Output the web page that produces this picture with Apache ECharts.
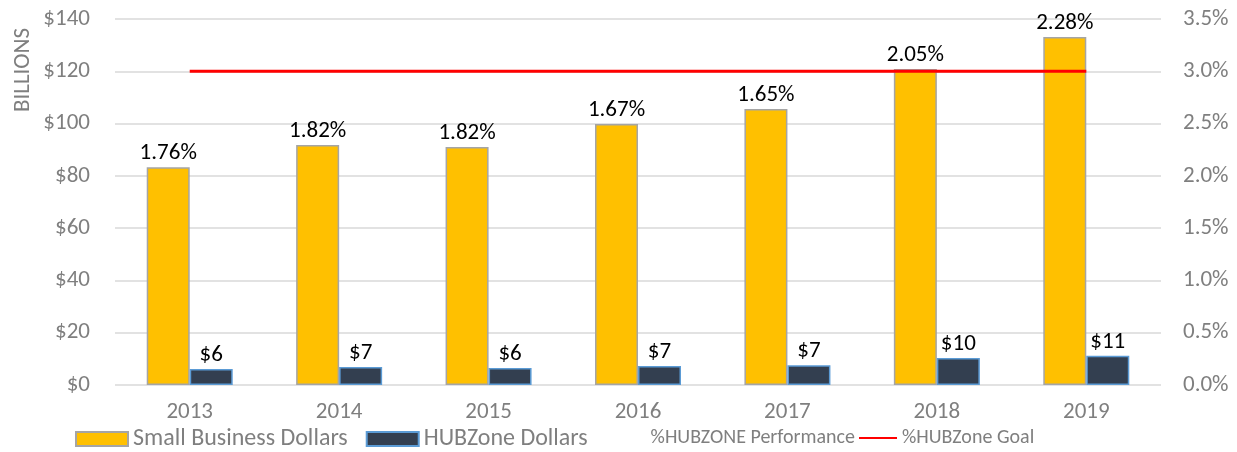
<!DOCTYPE html>
<html>
<head>
<meta charset="utf-8">
<script src="https://cdn.jsdelivr.net/npm/echarts@6/dist/echarts.min.js"></script>
<style>
  html, body { margin: 0; padding: 0; background: #fff; }
  #chart { width: 1237px; height: 452px; }
</style>
</head>
<body>
<div id="chart"></div>
<script>
var years = ['2013', '2014', '2015', '2016', '2017', '2018', '2019'];
var smallBusiness = [83.3, 91.8, 91.0, 99.8, 105.6, 120.9, 133.1];
var hubzone = [6.1, 6.9, 6.5, 7.3, 7.6, 10.3, 11.2];
var hubzoneLabels = ['$6', '$7', '$6', '$7', '$7', '$10', '$11'];
var performance = [1.76, 1.82, 1.82, 1.67, 1.65, 2.05, 2.28];
var goal = [3.0, 3.0, 3.0, 3.0, 3.0, 3.0, 3.0];

var font = 'Carlito, Lato, "Liberation Sans", sans-serif';
var gray = '#7f7f7f';

var myChart = echarts.init(document.getElementById('chart'));
myChart.setOption({
  animation: false,
  textStyle: { fontFamily: font },
  grid: { left: 115, right: 76, top: 19, bottom: 67 },
  // three legends so each group sits where it does in the original
  legend: [{
    left: 75,
    top: 427,
    padding: 0,
    itemWidth: 52,
    itemHeight: 14,
    itemGap: 18,
    textStyle: { color: gray, fontSize: 24, fontFamily: font },
    data: [
      { name: 'Small Business Dollars', icon: 'rect' },
      { name: 'HUBZone Dollars', icon: 'rect' }
    ]
  }, {
    left: 640,
    top: 428,
    padding: 0,
    itemWidth: 0,
    itemHeight: 14,
    textStyle: { color: gray, fontSize: 20, fontFamily: font },
    data: ['%HUBZONE Performance']
  }, {
    left: 858,
    top: 428,
    padding: 0,
    itemWidth: 38,
    itemHeight: 14,
    textStyle: { color: gray, fontSize: 20, fontFamily: font },
    data: [{ name: '%HUBZone Goal', itemStyle: { opacity: 0 } }]
  }],
  graphic: [{
    type: 'text',
    left: 12,
    top: 28,
    rotation: Math.PI / 2,
    style: { text: 'BILLIONS', fill: gray, font: '23px ' + font }
  }],
  xAxis: {
    type: 'category',
    data: years,
    axisLine: { show: false },
    axisTick: { show: false },
    axisLabel: { color: gray, fontSize: 23, margin: 16 }
  },
  yAxis: [{
    type: 'value',
    min: 0, max: 140, interval: 20,
    axisLabel: { color: gray, fontSize: 23, margin: 25, formatter: function (v) { return '$' + v; } },
    splitLine: { lineStyle: { color: '#d9d9d9', width: 1.5 } }
  }, {
    type: 'value',
    min: 0, max: 3.5, interval: 0.5,
    axisLabel: { color: gray, fontSize: 23, margin: 22, formatter: function (v) { return v.toFixed(1) + '%'; } },
    splitLine: { show: false }
  }],
  series: [{
    name: 'Small Business Dollars',
    type: 'bar',
    data: smallBusiness,
    barWidth: 43,
    barGap: '0%',
    itemStyle: { color: '#ffc000', borderColor: '#a5a5a5', borderWidth: 1.5 },
    label: {
      show: true, position: 'top', distance: 2, color: '#000', fontSize: 23,
      formatter: function (p) { return performance[p.dataIndex].toFixed(2) + '%'; }
    }
  }, {
    name: 'HUBZone Dollars',
    type: 'bar',
    data: hubzone,
    barWidth: 43,
    itemStyle: { color: '#333f50', borderColor: '#5b9bd5', borderWidth: 1.5 },
    label: {
      show: true, position: 'top', distance: 2, color: '#000', fontSize: 23,
      formatter: function (p) { return hubzoneLabels[p.dataIndex]; }
    }
  }, {
    name: '%HUBZONE Performance',
    type: 'line',
    yAxisIndex: 1,
    data: performance,
    symbol: 'none',
    silent: true,
    lineStyle: { color: 'rgba(0,0,0,0)', width: 0 },
    itemStyle: { color: 'rgba(0,0,0,0)' }
  }, {
    name: '%HUBZone Goal',
    type: 'line',
    yAxisIndex: 1,
    data: goal,
    symbol: 'none',
    lineStyle: { color: '#ff0000', width: 3 },
    itemStyle: { color: '#ff0000' },
    z: 5
  }]
});
</script>
</body>
</html>
